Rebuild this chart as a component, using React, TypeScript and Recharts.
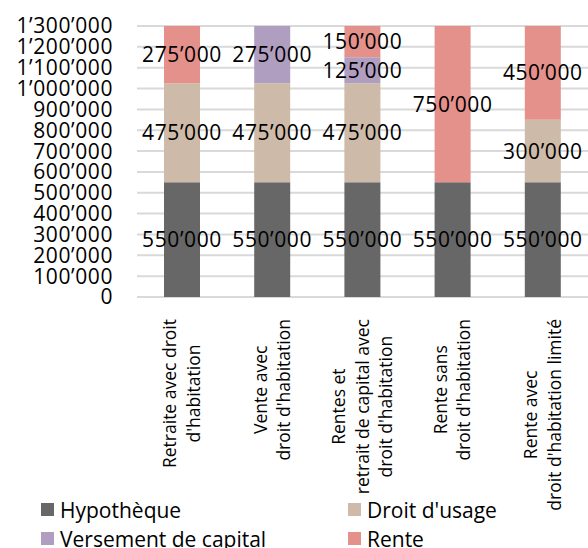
import React from "react";
import {
  BarChart,
  Bar,
  XAxis,
  YAxis,
  CartesianGrid,
  LabelList,
  Legend,
} from "recharts";

const categories = [
  "Retraite avec droit\nd'habitation",
  "Vente avec\ndroit d'habitation",
  "Rentes et\nretrait de capital avec\ndroit d'habitation",
  "Rente sans\ndroit d'habitation",
  "Rente avec\ndroit d'habitation limité",
];

const hypotheque = [550000, 550000, 550000, 550000, 550000];
const droitUsage = [475000, 475000, 475000, 0, 300000];
const versementCapital = [0, 275000, 125000, 0, 0];
const rente = [275000, 0, 150000, 750000, 450000];

const yTicks = [
  0, 100000, 200000, 300000, 400000, 500000, 600000, 700000, 800000, 900000,
  1000000, 1100000, 1200000, 1300000,
];

const series = [
  { key: "hypotheque", name: "Hypothèque", color: "#676767" },
  { key: "droitUsage", name: "Droit d'usage", color: "#CDBAA8" },
  { key: "versementCapital", name: "Versement de capital", color: "#B09EC0" },
  { key: "rente", name: "Rente", color: "#E4918C" },
];

const data = categories.map((name, i) => ({
  name,
  hypotheque: hypotheque[i],
  droitUsage: droitUsage[i],
  versementCapital: versementCapital[i],
  rente: rente[i],
}));

const FONT = "'Open Sans', 'Noto Sans', sans-serif";
const TICK_SIZE = 17.5;

const fmt = (v: any) => {
  if (!v) return v === 0 ? "0" : "";
  return String(v).replace(/\B(?=(\d{3})+(?!\d))/g, "\u2019");
};

const labelFmt = (v: any) => (v ? fmt(v) : "");

// width of the longest line, so rotated labels start right under the axis
let ctx: CanvasRenderingContext2D | null = null;
const textWidth = (s: string) => {
  if (!ctx) {
    ctx = document.createElement("canvas").getContext("2d");
    if (ctx) ctx.font = `${TICK_SIZE}px 'Open Sans'`;
  }
  return ctx ? ctx.measureText(s).width : s.length * 9;
};

const CategoryTick = ({ x, y, payload }: any) => {
  const lines = String(payload.value).split("\n");
  const step = 23.5;
  const longest = Math.max(...lines.map(textWidth));
  const cy = y + 14 + longest / 2;
  return (
    <g transform={`translate(${x},${cy})`}>
      <text
        transform="rotate(-90)"
        textAnchor="middle"
        fontSize={TICK_SIZE}
        fontFamily={FONT}
        fill="#000"
      >
        {lines.map((l, i) => (
          <tspan key={i} x={0} y={(i - (lines.length - 1) / 2) * step + 6}>
            {l}
          </tspan>
        ))}
      </text>
    </g>
  );
};

const LegendBox = () => (
  <div
    style={{
      display: "grid",
      gridTemplateColumns: "307px 240px",
      paddingLeft: 41,
      fontFamily: FONT,
      fontSize: 21,
      color: "#000",
    }}
  >
    {series.map((s) => (
      <div
        key={s.key}
        style={{ display: "flex", alignItems: "center", height: 29 }}
      >
        <span
          style={{
            width: 13,
            height: 13,
            background: s.color,
            marginRight: 6,
            display: "inline-block",
            flex: "none",
          }}
        />
        <span style={{ whiteSpace: "nowrap" }}>{s.name}</span>
      </div>
    ))}
  </div>
);

export default function App() {
  return (
    <div style={{ position: "absolute", left: 0, top: 0 }}>
      <BarChart
        width={588}
        height={548}
        data={data}
        margin={{ top: 26, right: 0, left: 0, bottom: 0 }}
        barSize={36}
      >
        <CartesianGrid
          vertical={false}
          stroke="#D9D9D9"
          strokeWidth={2}
          horizontalValues={yTicks}
        />
        <XAxis
          dataKey="name"
          axisLine={false}
          tickLine={false}
          interval={0}
          height={251}
          tick={<CategoryTick />}
        />
        <YAxis
          width={137}
          domain={[0, 1300000]}
          ticks={yTicks}
          interval={0}
          axisLine={false}
          tickLine={false}
          tickSize={0}
          tickMargin={24}
          tickFormatter={fmt}
          tick={{
            fill: "#000",
            fontSize: 21,
            fontFamily: FONT,
            letterSpacing: 0.6,
          }}
        />
        <Legend
          layout="vertical"
          align="center"
          verticalAlign="middle"
          wrapperStyle={{ left: 0, top: 495, width: 588 }}
          content={<LegendBox />}
        />
        {series.map((s) => (
          <Bar
            key={s.key}
            dataKey={s.key}
            name={s.name}
            stackId="a"
            fill={s.color}
            isAnimationActive={false}
          >
            <LabelList
              dataKey={s.key}
              position="center"
              formatter={labelFmt}
              fill="#000"
              fontSize={21}
              fontFamily={FONT}
              letterSpacing={0.6}
            />
          </Bar>
        ))}
      </BarChart>
    </div>
  );
}
